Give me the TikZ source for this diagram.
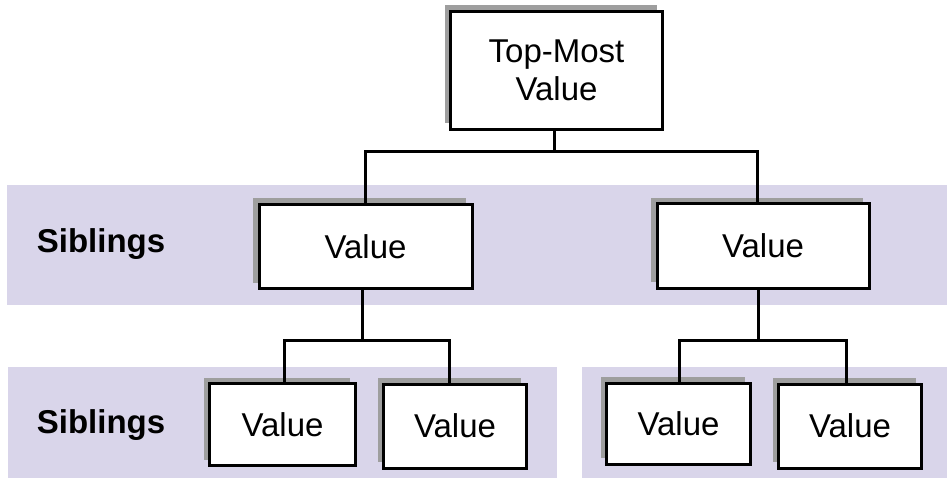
\documentclass[tikz,border=0pt]{standalone}
\usepackage{fontspec}
\setmainfont{Liberation Sans}
\usetikzlibrary{shadows}
\definecolor{bandcol}{HTML}{D9D5EA}
\definecolor{shadowcol}{HTML}{9E9E9E}
\begin{document}
\begin{tikzpicture}[x=1pt,y=-1pt,
  valbox/.style={draw=black, line width=3pt, fill=white, inner sep=0pt,
    font=\fontsize{33}{40}\selectfont, align=center,
    general shadow={fill=shadowcol, shadow xshift=-6pt, shadow yshift=6pt}},
  band/.style={fill=bandcol, draw=none},
  conn/.style={draw=black, line width=3pt},
  sib/.style={font=\fontsize{33}{40}\selectfont\bfseries, anchor=base}]
\useasboundingbox (0,0) rectangle (947,478);
% bands
\fill[band] (7,185) rectangle (947,305);
\fill[band] (8,367) rectangle (557,478);
\fill[band] (582,367) rectangle (947,478);
% labels
\node[sib] (s1) at (101,252) {Siblings};
\node[sib] (s2) at (101,433) {Siblings};
% boxes
\node[valbox, minimum width=212pt, minimum height=118pt] (top) at (556.5,70.5) {Top-Most\\[-2pt]Value};
\node[valbox, minimum width=213pt, minimum height=84pt] (l1) at (365.5,246.5) {Value};
\node[valbox, minimum width=212pt, minimum height=84pt] (r1) at (763,246) {Value};
\node[valbox, minimum width=146pt, minimum height=82pt] (ll) at (282.5,424.5) {Value};
\node[valbox, minimum width=143pt, minimum height=84pt] (lr) at (455,426) {Value};
\node[valbox, minimum width=144pt, minimum height=81pt] (rl) at (678.5,423.5) {Value};
\node[valbox, minimum width=143pt, minimum height=84pt] (rr) at (850,426) {Value};
% connectors
\coordinate (j0) at (554,152);
\coordinate (j1) at (362,340);
\coordinate (j2) at (758,340);
\draw[conn] ([xshift=-2.5pt]top.south) -- (j0);
\draw[conn] (j0) -| ([xshift=-0.5pt]l1.north);
\draw[conn] (j0) -| ([xshift=-6pt]r1.north);
\draw[conn] ([xshift=-3.5pt]l1.south) -- (j1);
\draw[conn] (j1) -| ([xshift=1.5pt]ll.north);
\draw[conn] (j1) -| ([xshift=-6pt]lr.north);
\draw[conn] ([xshift=-5pt]r1.south) -- (j2);
\draw[conn] (j2) -| ([xshift=0.5pt]rl.north);
\draw[conn] (j2) -| ([xshift=-4pt]rr.north);
\end{tikzpicture}
\end{document}
